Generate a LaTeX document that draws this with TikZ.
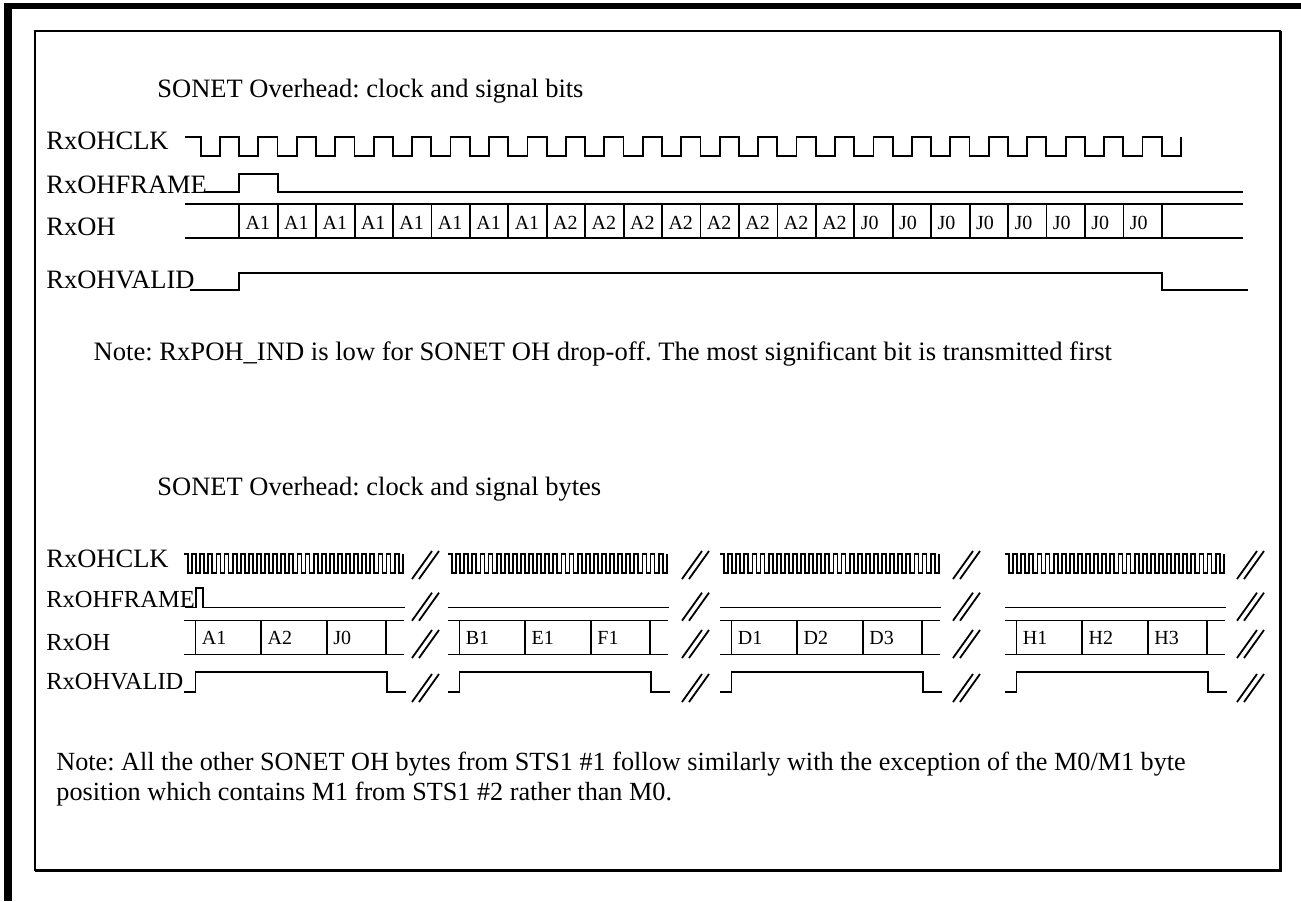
\documentclass[tikz,border=0pt]{standalone}
\usepackage{fontspec}
\setmainfont{Liberation Serif}
\frenchspacing

\tikzset{
  wave/.style={line width=0.9pt},
  sig/.style={anchor=base west,inner sep=0pt,font=\fontsize{13.25}{16}\selectfont},
  sigs/.style={sig,font=\fontsize{12.25}{15}\selectfont},
  cell/.style={anchor=base west,inner sep=0pt,font=\fontsize{10}{12}\selectfont},
}

\begin{document}
\begin{tikzpicture}[x=0.5pt,y=-0.5pt]

  \useasboundingbox (0,0) rectangle (1301,901);
%
  \fill (4,3) rectangle (1301,9);
  \fill (4,3) rectangle (12,901);
  \draw [line width=0.75pt] (35,31) rectangle (1280,870);
  \draw [line width=1.5pt] (1280,31) -- (1280,870) -- (35,870);
%
% bits
%
  \node [sig] (titlebits) at (157,97.5) {SONET Overhead: clock and signal bits};
  \node [sig] (clkbits) at (46,149)   {RxOHCLK};
  \node [sig] (frmbits) at (46,193.3) {RxOHFRAME};
  \node [sig] (ohbits)  at (46,235)   {RxOH};
  \node [sig] (vldbits) at (46,288.3) {RxOHVALID};
%
  \draw [wave] (185,137) -- (200.7,137) -- (200.7,156)
    \foreach \k in {0,...,24} { -- ({219.92+38.44*\k},156) -- ++(0,-19)
                                 -- ({239.14+38.44*\k},137) -- ++(0,19) }
    -- (1180.9,156) -- ++(0,-19) ;
%
  \draw [wave] (205,192.3) -- (239.3,192.3) -- (239.3,174) -- (277.7,174)
    -- (277.7,192.3) -- (1243,192.3) ;
%
  \draw [wave] (185,204) -- (1243,204) (185,237.7) -- (1243,237.7) ;
  \foreach \i in {0,...,24}
    \draw [wave] ({239.3+38.44*\i},204) -- ({239.3+38.44*\i},237.7) ;
  \foreach \lab/\first in {A1/0,A2/8,J0/16}
    \foreach \j in {0,...,7}
      \node [cell] (b\lab\j) at ({245.3+38.44*(\first+\j)},229) {\lab} ;
%
  \draw [wave] (190,290) -- (239.3,290) -- (239.3,272.7) -- (1161.7,272.7)
    -- (1161.7,290) -- (1247.7,290) ;
%
  \node [sig,font=\fontsize{13.3}{16}\selectfont] (notebits) at (93.3,360.7) {Note: RxPOH\_IND is low for SONET OH drop-off. The most significant bit is transmitted first};
%
% bytes
%
  \node [sig] (titlebytes) at (157,495) {SONET Overhead: clock and signal bytes};
  \node [sig]  (clkbytes) at (46,567.3) {RxOHCLK};
  \node [sigs] (frmbytes) at (46,607.3) {RxOHFRAME};
  \node [sigs] (ohbytes)  at (46,650)   {RxOH};
  \node [sigs] (vldbytes) at (46,689.3) {RxOHVALID};
%
  \foreach \s/\b/\la/\lb/\lc [count=\g] in
      {184/412/A1/A2/J0, 448/682/B1/E1/F1, 720/953/D1/D2/D3, 1005/1237/H1/H2/H3} {
    % clock
    \draw [wave] (\s,554.3)
      \foreach \k in {0,...,26} { -- ({\s+8.1*\k+4.05},554.3) -- ++(0,19)
                                   -- ({\s+8.1*\k+8.1},573.3) -- ++(0,-19) } ;
    % bus
    \draw [wave] (\s,620.5) -- ++(220,0) (\s,654.5) -- ++(220,0) ;
    \foreach \d in {11.5,77.2,143,202}
      \draw [wave] ({\s+\d},620.5) -- ({\s+\d},654.5) ;
    \node [cell] (c\g1) at ({\s+17.5},644) {\la} ;
    \node [cell] (c\g2) at ({\s+83.2},644) {\lb} ;
    \node [cell] (c\g3) at ({\s+149},644)  {\lc} ;
    % valid
    \draw [wave] (\s,692) -- ++(11.5,0) -- ++(0,-20) -- ({\s+203},672)
      -- ++(0,20) -- ({\s+222},692) ;
    % breaks
    \foreach \y in {565,606.7,644,688}
      \draw [wave] (\b,\y+14) -- ++(20,-28) (\b+7,\y+14) -- ++(20,-28) ;
  }
%
  \draw [wave] (185,607.5) -- (195.7,607.5) -- (195.7,587.7) -- (203.3,587.7)
    -- (203.3,607.5) -- (405,607.5) ;
  \foreach \s in {448,720,1005}
    \draw [wave] (\s,607.5) -- ++(221,0) ;
%
  \node [sig,font=\fontsize{13.1}{16}\selectfont] (notebytesa) at (56,770) {Note: All the other SONET OH bytes from STS1 \#1 follow similarly with the exception of the M0/M1 byte};
  \node [sig,font=\fontsize{13.1}{16}\selectfont] (notebytesb) at (56,800) {position which contains M1 from STS1 \#2 rather than M0.};

\end{tikzpicture}
\end{document}
